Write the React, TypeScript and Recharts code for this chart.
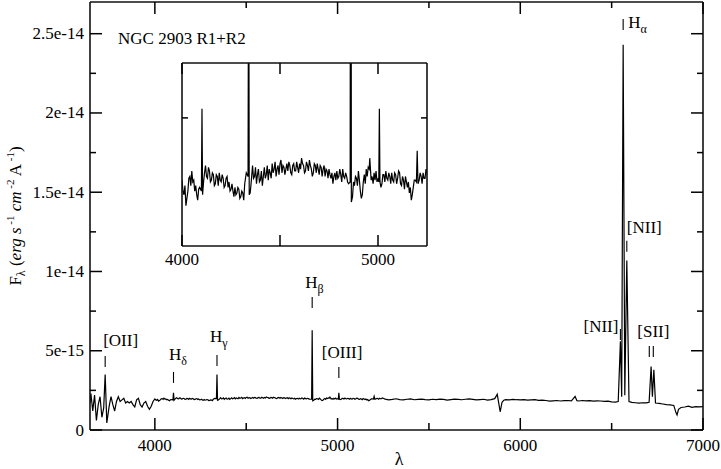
import React from 'react';
import { LineChart, Line, XAxis, YAxis, ReferenceDot } from 'recharts';

const FONT = '"Liberation Serif", "Times New Roman", serif';

// wavelength (A), flux in units of 1e-15 erg s^-1 cm^-2 A^-1
const spectrum: [number, number][] = [
  [3645, 1.7], [3650, 2.3], [3660, 1.2], [3670, 2.2], [3680, 0.6], [3690, 1.6], [3700, 2.1], [3710, 0.8],
  [3720, 1.4], [3728, 3.5], [3737, 0.45], [3750, 1.5], [3760, 2.1], [3770, 1.6], [3780, 1.2], [3790, 1.8],
  [3800, 2.1], [3810, 1.8], [3820, 1.9], [3830, 2.0], [3840, 1.7], [3850, 1.8], [3860, 1.7], [3870, 1.8],
  [3880, 1.6], [3890, 1.45], [3900, 1.9], [3910, 2.0], [3920, 1.6], [3930, 1.45], [3940, 1.7], [3950, 1.8],
  [3960, 1.5], [3970, 1.3], [3980, 1.5], [3990, 1.8],
  [4000, 1.96], [4005, 1.9], [4010, 1.88], [4015, 1.93], [4020, 1.82], [4025, 1.86], [4030, 1.9], [4035, 1.97],
  [4040, 1.98], [4045, 1.93], [4050, 2.01], [4055, 1.95], [4060, 1.96], [4065, 1.9], [4070, 1.93], [4075, 1.88],
  [4080, 1.85], [4085, 1.91], [4090, 1.92], [4099, 1.9], [4102, 2.35], [4105, 1.88], [4110, 1.95], [4115, 2.0],
  [4120, 2.04], [4125, 1.98], [4130, 1.97], [4135, 2.03], [4140, 2.01], [4145, 1.95], [4150, 1.96], [4155, 2.0],
  [4160, 1.99], [4165, 1.93], [4170, 1.94], [4175, 1.99], [4180, 1.98], [4185, 1.93], [4190, 2.0], [4195, 1.96],
  [4200, 1.95], [4205, 1.99], [4210, 1.97], [4215, 1.92], [4220, 1.93], [4225, 1.97], [4230, 1.98], [4235, 1.92],
  [4240, 1.95], [4245, 1.9], [4250, 1.91], [4255, 1.94], [4260, 1.9], [4265, 1.87], [4270, 1.92], [4275, 1.88],
  [4280, 1.89], [4285, 1.92], [4290, 1.91], [4295, 1.86], [4300, 1.87], [4305, 1.9], [4310, 1.89], [4315, 1.85],
  [4320, 1.94], [4328, 2.0], [4337, 1.98], [4340, 3.5], [4343, 1.88], [4348, 1.89], [4354, 1.96], [4360, 2.04],
  [4365, 1.97], [4370, 1.98], [4375, 2.03], [4380, 1.94], [4385, 1.99], [4390, 2.02], [4395, 1.95], [4400, 1.96],
  [4405, 2.01], [4410, 1.93], [4415, 1.98], [4420, 2.03], [4425, 1.97], [4430, 1.99], [4435, 2.04], [4440, 1.96],
  [4445, 2.02], [4450, 2.0], [4455, 1.97], [4460, 2.05], [4465, 2.0], [4470, 2.02], [4475, 2.06], [4480, 1.98],
  [4485, 2.02], [4490, 2.04], [4495, 1.99], [4500, 2.05], [4505, 2.07], [4510, 2.0], [4515, 2.04], [4520, 2.03],
  [4525, 1.99], [4530, 2.02], [4535, 2.05], [4540, 2.01], [4545, 2.06], [4550, 2.04], [4555, 2.0], [4560, 1.99],
  [4565, 2.04], [4570, 2.05], [4575, 2.01], [4580, 2.01], [4585, 2.06], [4590, 2.03], [4595, 2.0], [4600, 2.05],
  [4605, 2.02], [4610, 2.08], [4615, 2.05], [4620, 2.04], [4625, 2.0], [4630, 2.01], [4635, 2.06], [4640, 2.04],
  [4645, 2.01], [4650, 2.07], [4655, 2.04], [4660, 2.02], [4665, 1.98], [4670, 2.0], [4675, 2.05], [4680, 2.04],
  [4685, 2.0], [4690, 2.05], [4695, 2.02], [4700, 1.99], [4705, 2.04], [4710, 2.03], [4715, 1.98], [4720, 2.02],
  [4725, 2.04], [4730, 1.98], [4735, 2.02], [4740, 2.01], [4745, 1.97], [4750, 2.02], [4755, 1.99], [4760, 1.97],
  [4765, 2.0], [4770, 1.94], [4775, 1.98], [4780, 2.0], [4785, 1.96], [4790, 2.01], [4795, 1.97], [4800, 1.98],
  [4805, 2.02], [4810, 1.99], [4815, 1.95], [4820, 2.02], [4825, 1.98], [4830, 1.97], [4835, 2.0], [4840, 1.98],
  [4845, 1.95], [4850, 1.94], [4858, 1.95], [4861, 6.3], [4864, 1.84], [4870, 1.87], [4875, 1.95], [4880, 1.93],
  [4885, 1.98], [4890, 1.97], [4895, 1.93], [4900, 2.01], [4905, 1.96], [4910, 1.9], [4915, 1.86], [4920, 1.88],
  [4925, 1.95], [4930, 1.99], [4935, 1.94], [4940, 2.02], [4945, 1.98], [4950, 2.03], [4955, 2.02], [4958, 2.08],
  [4965, 1.96], [4970, 1.98], [4975, 1.94], [4980, 2.0], [4985, 1.96], [4990, 2.01], [4995, 1.95], [5000, 1.97],
  [5004, 1.95], [5007, 2.35], [5010, 1.95], [5015, 1.92], [5020, 1.94], [5025, 1.99], [5030, 1.99], [5035, 1.95],
  [5040, 2.01], [5045, 1.97], [5050, 1.96], [5055, 2.0], [5060, 1.98], [5065, 1.94], [5070, 2.0], [5075, 1.96],
  [5080, 1.95], [5085, 2.0], [5090, 1.99], [5095, 1.94], [5100, 1.97], [5105, 2.01], [5110, 2.0], [5115, 1.94],
  [5120, 1.93], [5125, 1.98], [5130, 1.96], [5135, 1.91], [5140, 1.98], [5145, 1.95], [5150, 1.92], [5155, 1.95],
  [5160, 1.89], [5165, 1.92], [5170, 1.85], [5175, 1.88], [5180, 1.92], [5185, 1.96], [5190, 1.96], [5196, 1.95],
  [5200, 2.12], [5204, 1.94], [5210, 1.96], [5215, 2.0], [5220, 1.98], [5225, 1.94], [5230, 2.0], [5235, 1.97],
  [5240, 1.97], [5245, 2.02], [5250, 2.0],
  [5260, 1.95], [5280, 1.9], [5300, 1.93], [5320, 1.97], [5340, 1.92], [5360, 1.9], [5380, 1.94], [5400, 1.96],
  [5420, 1.91], [5440, 1.93], [5460, 1.95], [5480, 1.92], [5500, 1.9], [5520, 1.94], [5540, 1.92], [5560, 1.95],
  [5580, 1.93], [5600, 1.89], [5620, 1.92], [5640, 1.95], [5660, 1.93], [5680, 1.91], [5700, 1.94], [5720, 1.96],
  [5740, 1.93], [5760, 1.9], [5780, 1.92], [5800, 1.94], [5820, 1.88], [5840, 1.92], [5860, 1.98], [5874, 2.25],
  [5882, 1.7], [5890, 1.15], [5900, 1.75], [5910, 1.88], [5920, 1.92], [5940, 1.9], [5960, 1.93], [5980, 1.91],
  [6000, 1.9], [6020, 1.92], [6040, 1.88], [6060, 1.9], [6080, 1.91], [6100, 1.87], [6120, 1.89], [6140, 1.86],
  [6160, 1.82], [6180, 1.84], [6200, 1.86], [6220, 1.83], [6240, 1.85], [6260, 1.86], [6280, 1.84], [6300, 2.12],
  [6310, 1.85], [6320, 1.83], [6340, 1.86], [6360, 1.84], [6380, 1.85], [6400, 1.82], [6420, 1.84], [6440, 1.83],
  [6460, 1.8], [6480, 1.82], [6500, 1.78], [6520, 1.76], [6536, 1.8], [6548, 5.6], [6555, 2.1], [6563, 24.3],
  [6572, 2.2], [6583, 10.7], [6595, 1.8], [6610, 1.74], [6630, 1.72], [6650, 1.7], [6670, 1.72], [6690, 1.71],
  [6705, 1.75], [6716, 4.0], [6723, 2.1], [6731, 3.8], [6740, 1.7], [6760, 1.68], [6780, 1.64], [6800, 1.6],
  [6820, 1.58], [6840, 1.55], [6852, 1.1], [6858, 0.95], [6866, 1.3], [6880, 1.42], [6900, 1.45], [6920, 1.5],
  [6940, 1.43], [6960, 1.48], [6980, 1.46], [7000, 1.47],
];

const xTicks = [4000, 4500, 5000, 5500, 6000, 6500, 7000];
const xTickLabels: Record<string, string> = { '4000': '4000', '5000': '5000', '6000': '6000', '7000': '7000' };
const yTicks = [0, 2.5, 5, 7.5, 10, 12.5, 15, 17.5, 20, 22.5, 25];
const yTickLabels: Record<string, string> = {
  '0': '0', '5': '5e-15', '10': '1e-14', '15': '1.5e-14', '20': '2e-14', '25': '2.5e-14',
};
const insetXTicks = [4000, 4500, 5000];
const insetXTickLabels: Record<string, string> = { '4000': '4000', '5000': '5000' };
const insetYTicks = [2.3];

// emission line markers: tick bottom at (wave, flux)
const lineLabels = [
  { text: '[OII]', sub: '', wave: 3728, flux: 3.97 },
  { text: 'H', sub: 'δ', wave: 4102, flux: 2.97 },
  { text: 'H', sub: 'γ', wave: 4340, flux: 4.04 },
  { text: 'H', sub: 'β', wave: 4861, flux: 7.7 },
  { text: '[OIII]', sub: '', wave: 5007, flux: 3.28 },
  { text: 'H', sub: 'α', wave: 6563, flux: 25.24 },
  { text: '[NII]', sub: '', wave: 6583, flux: 11.25 },
  { text: '[NII]', sub: '', wave: 6548, flux: 5.68 },
  { text: '[SII]', sub: '', wave: 6706, flux: 4.61 },
  { text: '', sub: '', wave: 6728, flux: 4.61 },
];
const labelPlacement: { anchor: 'start' | 'end' | 'middle'; dx: number; dy: number }[] = [
  { anchor: 'start', dx: -2, dy: -10 },
  { anchor: 'start', dx: -4.5, dy: -11.5 },
  { anchor: 'start', dx: -7, dy: -12.5 },
  { anchor: 'start', dx: -7, dy: -8.5 },
  { anchor: 'start', dx: -17, dy: -9.5 },
  { anchor: 'start', dx: 5, dy: 9 },
  { anchor: 'start', dx: 0, dy: -7.5 },
  { anchor: 'end', dx: -2, dy: 3.5 },
  { anchor: 'start', dx: -12, dy: -8.5 },
  { anchor: 'start', dx: 0, dy: 0 },
];

const data = spectrum.map(([w, f]) => ({ w, f }));

const MARK = 11;

const renderTick =
  (side: 'bottom' | 'top' | 'left' | 'right', labels: Record<string, string>, major: number, minor: number, gap: number) =>
  (p: any) => {
    const { x, y, payload } = p;
    const lab = labels[String(payload.value)];
    const len = lab !== undefined ? major : minor;
    let x2 = x;
    let y2 = y;
    if (side === 'bottom') y2 = y - len;
    if (side === 'top') y2 = y + len;
    if (side === 'left') x2 = x + len;
    if (side === 'right') x2 = x - len;
    return (
      <g>
        <line x1={x} y1={y} x2={x2} y2={y2} stroke="#000" strokeWidth={1.5} />
        {lab !== undefined && side === 'bottom' && (
          <text x={x} y={y + gap} textAnchor="middle" fontFamily={FONT} fontSize={17} fill="#000">
            {lab}
          </text>
        )}
        {lab !== undefined && side === 'left' && (
          <text x={x - gap} y={y + 5.5} textAnchor="end" fontFamily={FONT} fontSize={17} fill="#000">
            {lab}
          </text>
        )}
      </g>
    );
  };

const axisLine = { stroke: '#111', strokeWidth: 1.6 };

const LineMark = ({ cx, cy, i }: { cx: number; cy: number; i: number }) => {
  const l = lineLabels[i];
  const pl = labelPlacement[i];
  const top = cy - MARK;
  return (
    <g>
      <line x1={cx} y1={cy} x2={cx} y2={top} stroke="#000" strokeWidth={1.1} />
      {l.text && (
        <text x={cx + pl.dx} y={top + pl.dy} textAnchor={pl.anchor} fontFamily={FONT} fontSize={17} fill="#000">
          {l.text}
          {l.sub && (
            <tspan fontSize={12} dy={5}>
              {l.sub}
            </tspan>
          )}
        </text>
      )}
    </g>
  );
};

export default function App() {
  return (
    <div style={{ position: 'absolute', left: 0, top: 0, width: 721, height: 469, background: '#fff' }}>
      <LineChart width={721} height={469} data={data} margin={{ top: 1, right: 17, bottom: 38, left: 89 }}>
        <XAxis
          dataKey="w"
          type="number"
          domain={[3645, 7000]}
          allowDataOverflow
          ticks={xTicks}
          interval={0}
          height={1}
          tickSize={0}
          tickMargin={0}
          tickLine={false}
          axisLine={axisLine}
          tick={renderTick('bottom', xTickLabels, 12, 7, 20.5)}
        />
        <XAxis
          xAxisId="t"
          orientation="top"
          dataKey="w"
          type="number"
          domain={[3645, 7000]}
          allowDataOverflow
          ticks={xTicks}
          interval={0}
          height={1}
          tickSize={0}
          tickMargin={0}
          tickLine={false}
          axisLine={axisLine}
          tick={renderTick('top', xTickLabels, 12, 6, 0)}
        />
        <YAxis
          type="number"
          domain={[0, 27]}
          allowDataOverflow
          ticks={yTicks}
          interval={0}
          width={1}
          tickSize={0}
          tickMargin={0}
          tickLine={false}
          axisLine={axisLine}
          tick={renderTick('left', yTickLabels, 12, 6, 6)}
        />
        <YAxis
          yAxisId="r"
          orientation="right"
          type="number"
          domain={[0, 27]}
          allowDataOverflow
          ticks={yTicks}
          interval={0}
          width={1}
          tickSize={0}
          tickMargin={0}
          tickLine={false}
          axisLine={axisLine}
          tick={renderTick('right', yTickLabels, 12, 6, 0)}
        />
        <Line type="linear" dataKey="f" stroke="#000" strokeWidth={1.2} dot={false} isAnimationActive={false} />
        {lineLabels.map((l, i) => (
          <ReferenceDot
            key={i}
            x={l.wave}
            y={l.flux}
            r={0}
            ifOverflow="visible"
            shape={(p: any) => <LineMark cx={p.cx} cy={p.cy} i={i} />}
          />
        ))}
      </LineChart>

      <div style={{ position: 'absolute', left: 150, top: 40 }}>
        <LineChart width={300} height={240} data={data} margin={{ top: 22, right: 22, bottom: 33, left: 31 }}>
          <XAxis
            dataKey="w"
            type="number"
            domain={[4000, 5250]}
            allowDataOverflow
            ticks={insetXTicks}
            interval={0}
            height={1}
            tickSize={0}
            tickMargin={0}
            tickLine={false}
            axisLine={axisLine}
            tick={renderTick('bottom', insetXTickLabels, 11, 11, 18.5)}
          />
          <XAxis
            xAxisId="t"
            orientation="top"
            dataKey="w"
            type="number"
            domain={[4000, 5250]}
            allowDataOverflow
            ticks={insetXTicks}
            interval={0}
            height={1}
            tickSize={0}
            tickMargin={0}
            tickLine={false}
            axisLine={axisLine}
            tick={renderTick('top', insetXTickLabels, 11, 11, 0)}
          />
          <YAxis
            type="number"
            domain={[1.6, 2.6]}
            allowDataOverflow
            ticks={insetYTicks}
            interval={0}
            width={1}
            tickSize={0}
            tickMargin={0}
            tickLine={false}
            axisLine={axisLine}
            tick={renderTick('left', {}, 6, 6, 0)}
          />
          <YAxis
            yAxisId="r"
            orientation="right"
            type="number"
            domain={[1.6, 2.6]}
            allowDataOverflow
            ticks={insetYTicks}
            interval={0}
            width={1}
            tickSize={0}
            tickMargin={0}
            tickLine={false}
            axisLine={axisLine}
            tick={renderTick('right', {}, 6, 6, 0)}
          />
          <Line type="linear" dataKey="f" stroke="#000" strokeWidth={1.2} dot={false} isAnimationActive={false} />
        </LineChart>
      </div>

      <svg width={721} height={469} style={{ position: 'absolute', left: 0, top: 0, pointerEvents: 'none' }}>
        <text x={118} y={44} fontFamily={FONT} fontSize={17} fill="#000">
          NGC 2903 R1+R2
        </text>
        <text x={399} y={465} textAnchor="middle" fontFamily={FONT} fontSize={18} fill="#000">
          λ
        </text>
        <text transform="translate(21,216) rotate(-90)" textAnchor="middle" fontFamily={FONT} fontSize={17} fill="#000">
          F
          <tspan fontSize={12} dy={4}>λ</tspan>
          <tspan dy={-4}> (</tspan>
          <tspan fontStyle="italic">erg s</tspan>
          <tspan fontSize={11} dy={-7}> -1</tspan>
          <tspan dy={7} fontStyle="italic"> cm</tspan>
          <tspan fontSize={11} dy={-7}> -2</tspan>
          <tspan dy={7}> A</tspan>
          <tspan fontSize={11} dy={-7}> -1</tspan>
          <tspan dy={7}>)</tspan>
        </text>
      </svg>
    </div>
  );
}
